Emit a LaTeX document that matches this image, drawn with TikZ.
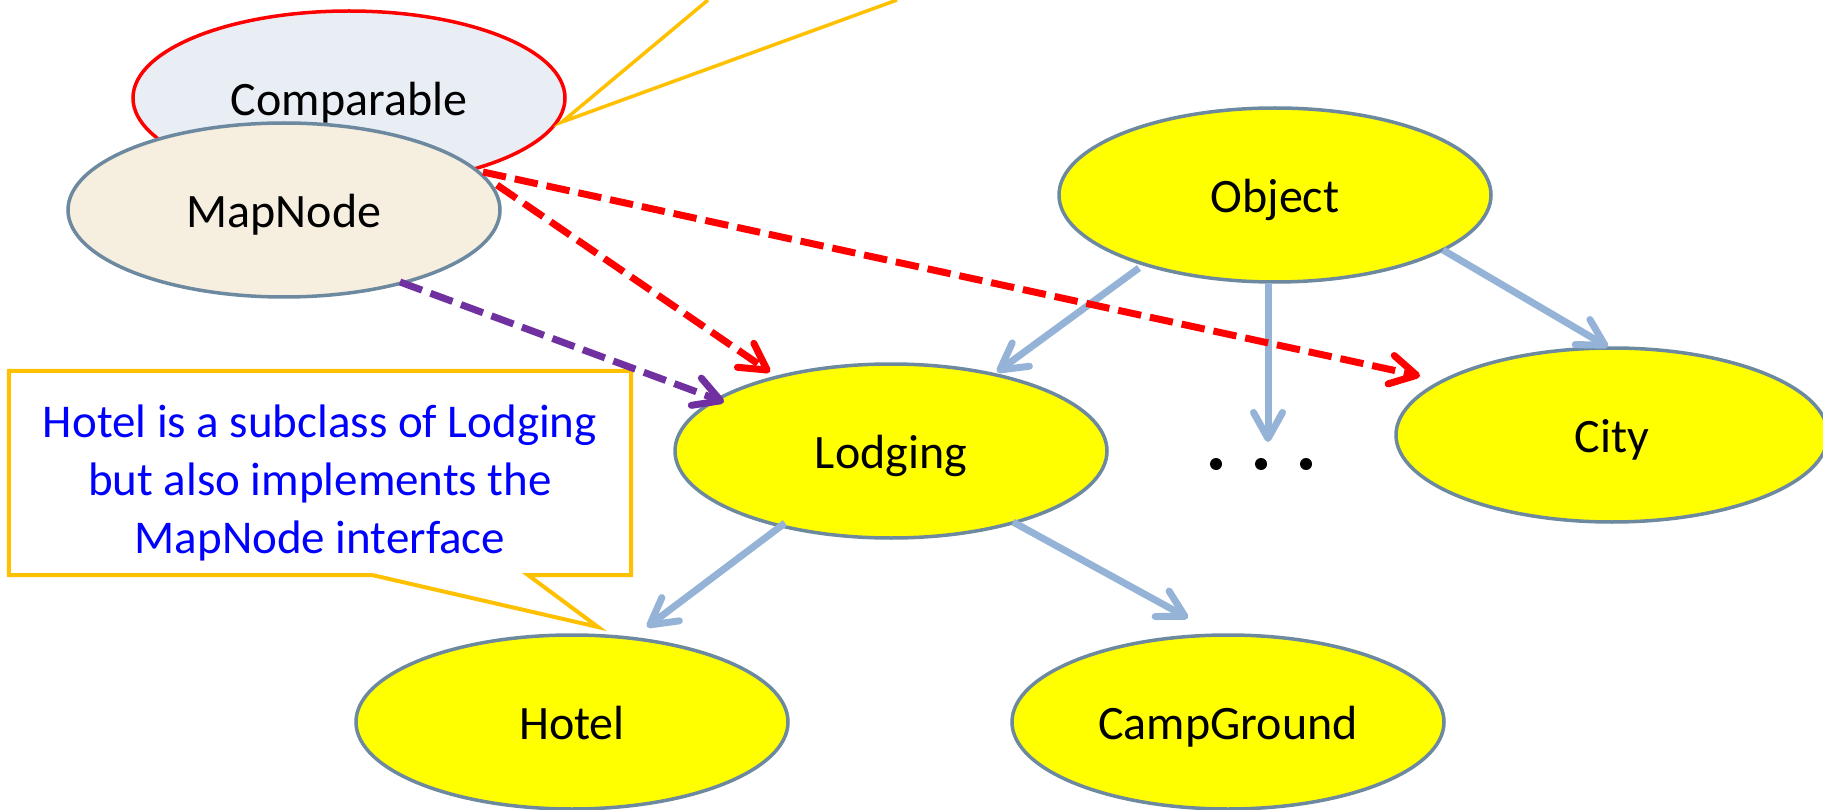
\documentclass[tikz,border=0pt]{standalone}
\usepackage{fontspec}
\setmainfont{Carlito}
\usetikzlibrary{arrows.meta,calc,shapes.geometric}
\definecolor{elborder}{RGB}{108,137,160}
\definecolor{clsfill}{RGB}{255,255,0}
\definecolor{arrblue}{RGB}{149,179,215}
\definecolor{pred}{RGB}{255,0,0}
\definecolor{pblue}{RGB}{0,0,255}
\definecolor{ppurple}{RGB}{112,48,160}
\definecolor{amber}{RGB}{255,192,0}
\definecolor{cmpfill}{RGB}{233,238,245}
\definecolor{mapfill}{RGB}{246,238,222}
\begin{document}
\begin{tikzpicture}[x=1pt,y=-1pt,
  cls/.style={ellipse, draw=elborder, line width=3.5pt, fill=clsfill,
    minimum width=432pt, minimum height=174pt, inner sep=0pt, outer sep=0pt,
    font=\fontsize{48}{58}\selectfont, text height=39pt, text depth=4pt},
  tipbarb/.style={-{Straight Barb[length=26pt,width=29pt,round]}},
  inherit/.style={draw=arrblue, line width=7pt, tipbarb},
  impl/.style={line width=7pt, dash pattern=on 23.5pt off 9pt, tipbarb},
  notebox/.style={draw=none, minimum width=622pt, minimum height=204pt,
    inner sep=0pt, align=center, text=pblue, font=\fontsize{47}{58}\selectfont},
  noteline/.style={draw=amber, line width=4pt, line join=miter},
  dotmark/.style={circle, fill=black, minimum size=12pt, inner sep=0pt}
]
\path[use as bounding box] (0,0) rectangle (1823,810);

% nodes
\node[cls, fill=cmpfill, draw=pred] (comparable) at (349,98) {Comparable};
\coordinate (ytop1) at (708,0);
\coordinate (ytop2) at (897,0);
\coordinate (ymeet) at ($(comparable)+(213,24)$);
\draw[draw=amber, line width=3.5pt] (ytop1) -- (ymeet) -- (ytop2);
\node[cls, fill=mapfill] (mapnode) at (284,210) {MapNode};
\node[cls] (object) at (1275,195) {Object};
\node[cls] (lodging) at (891,451) {Lodging};
\node[cls] (city) at (1612,435) {City};
\node[cls] (hotel) at (572,722) {Hotel};
\node[cls] (camp) at (1228,722) {CampGround};
\node[dotmark] (dot1) at (1216,464) {};
\node[dotmark] (dot2) at (1261,464) {};
\node[dotmark] (dot3) at (1306,464) {};
\coordinate (dotstop) at ($(dot2)+(7,-22)$);

% callout
\node[notebox] (note) at (320,473) {\rule{0pt}{52pt}Hotel is a subclass of Lodging\\but also implements the\\MapNode interface};
\coordinate (notetip) at ($(hotel)+(26,-95)$);
\draw[noteline] (note.north west) -- (note.north east) -- (note.south east)
  -- ($(note.south east)+(-103,0)$) -- (notetip)
  -- ($(note.south west)+(364,0)$) -- (note.south west) -- cycle;

% inheritance arrows
\draw[inherit] ($(object)+(-136,73)$) -- ($(lodging)+(106,-79)$);
\draw[inherit] ($(object)+(-7,88)$) -- (dotstop);
\draw[inherit] ($(object)+(168,55)$) -- ($(city)+(-4,-88)$);
\draw[inherit] ($(lodging)+(-106,72)$) -- ($(hotel)+(75,-95)$);
\draw[inherit] ($(lodging)+(122,71)$) -- ($(camp)+(-40,-104)$);

% implements arrows
\draw[impl, draw=pred] ($(comparable)+(148,87)$) -- ($(lodging)+(-121,-79)$);
\draw[impl, draw=pred] ($(comparable)+(134,74)$) -- ($(city)+(-192,-59)$);
\draw[impl, draw=ppurple] ($(mapnode)+(116,72)$) -- ($(lodging)+(-167,-49)$);
\end{tikzpicture}
\end{document}
